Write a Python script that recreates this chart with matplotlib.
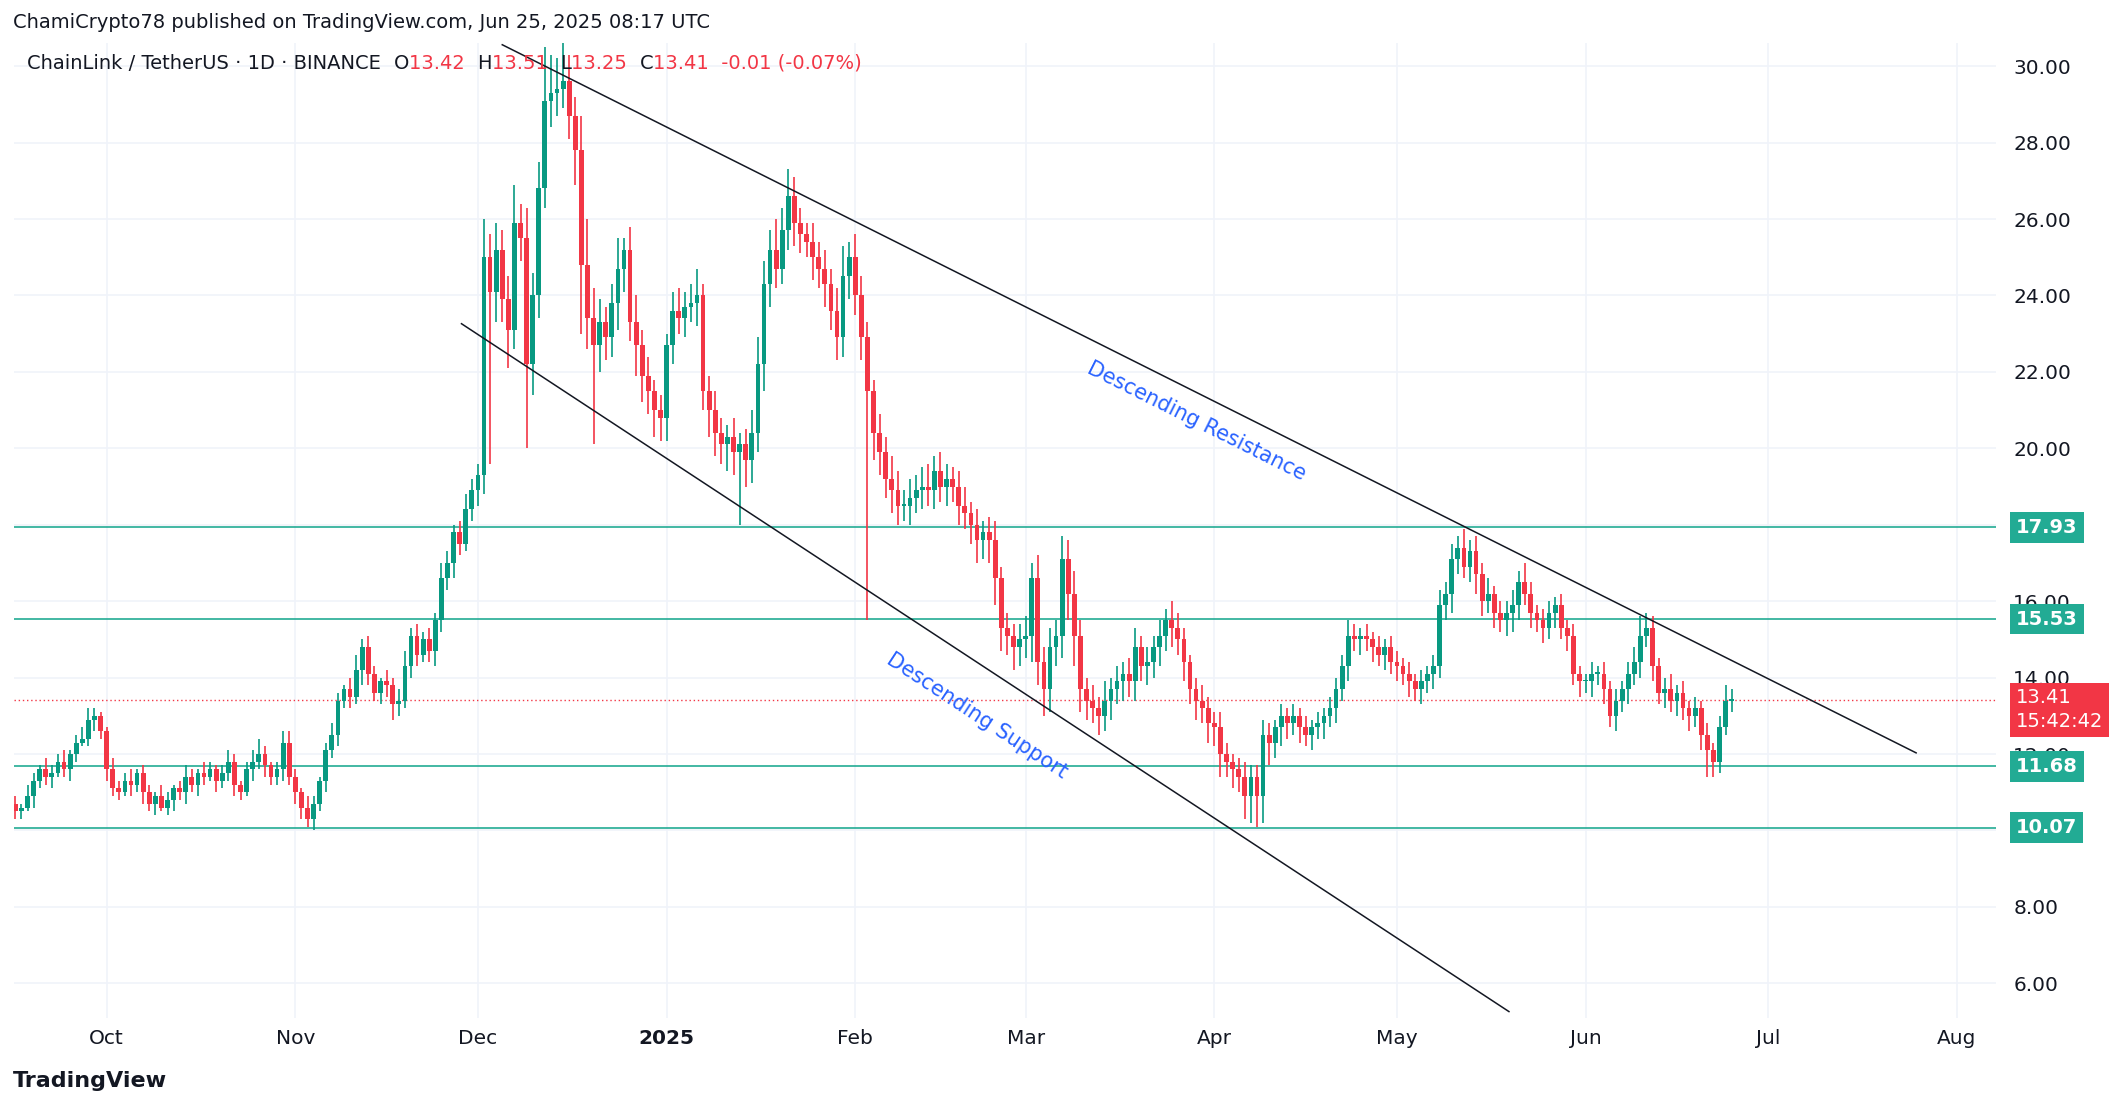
import matplotlib.pyplot as plt
import numpy as np

# daily closes, Sep 16 2024 .. Jun 25 2025
CLOSE_SEP = [10.5, 10.6, 10.9, 11.3, 11.6, 11.4, 11.5, 11.8, 11.6, 12.0, 12.3, 12.4, 12.9, 13.0, 12.6]
CLOSE_OCT = [11.6, 11.1, 11.0, 11.3, 11.2, 11.5, 11.0, 10.7, 10.9, 10.6, 10.8, 11.1, 11.0, 11.4, 11.2, 11.5,
             11.4, 11.6, 11.3, 11.5, 11.8, 11.2, 11.0, 11.6, 11.8, 12.0, 11.7, 11.4, 11.6, 12.3, 11.4]
CLOSE_NOV = [11.0, 10.6, 10.3, 10.7, 11.3, 12.1, 12.5, 13.4, 13.7, 13.5, 14.2, 14.8, 14.1, 13.6, 13.9, 13.8,
             13.3, 13.4, 14.3, 15.1, 14.6, 15.0, 14.7, 15.5, 16.6, 17.0, 17.8, 17.5, 18.4, 18.9]
CLOSE_DEC = [19.3, 25.0, 24.1, 25.2, 23.9, 23.1, 25.9, 25.5, 22.2, 24.0, 26.8, 29.1, 29.3, 29.4, 29.6, 28.7,
             27.8, 24.8, 23.4, 22.7, 23.3, 22.9, 23.8, 24.7, 25.2, 23.3, 22.7, 21.9, 21.5, 21.0, 20.8]
CLOSE_JAN = [22.7, 23.6, 23.4, 23.7, 23.8, 24.0, 21.5, 21.0, 20.4, 20.1, 20.3, 19.9, 20.1, 19.7, 20.4, 22.2,
             24.3, 25.2, 24.7, 25.7, 26.6, 25.9, 25.6, 25.4, 25.0, 24.7, 24.3, 23.6, 22.9, 24.5, 25.0]
CLOSE_FEB = [24.0, 22.9, 21.5, 20.4, 19.9, 19.2, 18.9, 18.5, 18.5, 18.7, 18.9, 19.0, 18.9, 19.4, 19.0, 19.2,
             19.0, 18.5, 18.3, 18.0, 17.6, 17.8, 17.6, 16.6, 15.3, 15.1, 14.8, 15.0]
CLOSE_MAR = [15.1, 16.6, 14.4, 13.7, 14.8, 15.1, 17.1, 16.2, 15.1, 13.7, 13.4, 13.2, 13.0, 13.4, 13.7, 13.9,
             14.1, 13.9, 14.8, 14.3, 14.4, 14.8, 15.1, 15.5, 15.3, 15.0, 14.4, 13.7, 13.4, 13.2, 12.8]
CLOSE_APR = [12.7, 12.0, 11.8, 11.6, 11.4, 10.9, 11.4, 10.9, 12.5, 12.3, 12.7, 13.0, 12.8, 13.0, 12.7, 12.5,
             12.7, 12.8, 13.0, 13.2, 13.7, 14.3, 15.1, 15.0, 15.1, 15.0, 14.8, 14.6, 14.8, 14.4]
CLOSE_MAY = [14.3, 14.1, 13.9, 13.7, 13.9, 14.1, 14.3, 15.9, 16.2, 17.1, 17.4, 16.9, 17.3, 16.7, 16.0, 16.2,
             15.7, 15.5, 15.7, 15.9, 16.5, 16.2, 15.7, 15.5, 15.3, 15.7, 15.9, 15.3, 15.1, 14.1, 13.9]
CLOSE_JUN = [13.9, 14.1, 14.1, 13.7, 13.0, 13.4, 13.7, 14.1, 14.4, 15.1, 15.3, 14.3, 13.6, 13.7, 13.4, 13.6,
             13.2, 13.0, 13.2, 12.5, 12.1, 11.8, 12.7, 13.4, 13.41]

# wick lengths in tenths of a dollar (upper, lower)
UP_WICK = [2, 1, 3, 2, 1, 3, 2, 2, 3, 1, 2, 3, 3, 2, 1,
           1, 3, 2, 2, 3, 1, 2, 2, 1, 3, 2, 1, 2, 3, 2, 1, 3, 2, 1, 2, 3, 2, 1, 2, 3, 4, 2, 1, 2, 3, 3,
           2, 1, 3, 2, 1, 2, 3, 2, 1, 3, 4, 2, 3, 2, 1, 3, 2, 3, 4, 2, 3, 2, 3, 2, 4, 3, 2, 3, 4, 3,
           3, 10, 6, 7, 5, 6, 10, 5, 8, 6, 7, 14, 10, 8, 12, 7, 5, 9, 12, 8, 6, 4, 5, 8, 3, 6, 7, 4, 5, 3, 4,
           3, 5, 6, 4, 5, 7, 3, 4, 5, 4, 3, 5, 3, 4, 6, 7, 6, 5, 8, 6, 7, 5, 4, 3, 5, 4, 5, 4, 6, 8, 4,
           6, 5, 4, 3, 5, 4, 6, 5, 4, 5, 4, 5, 6, 4, 5, 4, 3, 4, 5, 3, 4, 3, 4, 5, 3, 4, 3, 4,
           5, 4, 6, 4, 5, 4, 6, 5, 6, 4, 3, 4, 3, 5, 3, 4, 3, 4, 5, 3, 4, 3, 4, 3, 5, 4, 3, 2, 3, 4, 3,
           3, 4, 3, 2, 3, 4, 3, 3, 4, 3, 2, 3, 2, 3, 2, 3, 2, 3, 2, 3, 3, 3, 4, 3, 2, 3, 2, 3, 2, 3,
           3, 2, 3, 2, 3, 2, 3, 4, 3, 4, 3, 5, 3, 4, 3, 4, 2, 3, 3, 4, 3, 5, 3, 2, 3, 3, 2, 3, 2, 3, 2,
           2, 3, 2, 3, 2, 3, 2, 3, 4, 5, 4, 3, 2, 3, 4, 2, 3, 2, 3, 2, 3, 2, 3, 4, 3]
LO_WICK = [2, 2, 1, 3, 2, 2, 3, 1, 2, 3, 2, 1, 2, 3, 2,
           3, 2, 2, 1, 3, 2, 3, 2, 3, 1, 2, 3, 2, 3, 2, 3, 2, 1, 3, 2, 2, 3, 2, 1, 3, 2, 3, 2, 2, 3, 2,
           3, 3, 2, 3, 2, 3, 2, 3, 2, 3, 2, 4, 3, 2, 3, 3, 4, 3, 2, 3, 3, 2, 3, 4, 3, 3, 4, 3, 2, 3,
           4, 5, 45, 8, 6, 10, 5, 6, 22, 8, 6, 5, 7, 6, 5, 6, 9, 18, 8, 26, 7, 6, 5, 7, 6, 5, 8, 7, 6, 7, 6,
           6, 5, 4, 5, 4, 6, 5, 7, 6, 5, 7, 6, 19, 7, 6, 5, 7, 6, 5, 4, 5, 6, 5, 4, 6, 5, 6, 5, 6, 5, 6,
           5, 6, 60, 7, 6, 5, 6, 5, 4, 5, 4, 5, 4, 5, 4, 5, 4, 5, 4, 5, 6, 5, 6, 7, 6, 5, 6, 5,
           5, 7, 6, 7, 6, 5, 6, 7, 8, 6, 5, 4, 5, 4, 5, 4, 5, 4, 5, 4, 5, 4, 5, 4, 5, 4, 5, 4, 5, 4, 5,
           5, 6, 4, 5, 4, 6, 7, 8, 7, 6, 4, 5, 4, 3, 4, 3, 4, 3, 4, 3, 4, 3, 4, 3, 4, 3, 4, 3, 4, 3,
           4, 3, 4, 3, 4, 3, 4, 3, 4, 5, 4, 3, 4, 5, 4, 3, 4, 3, 4, 5, 4, 3, 4, 3, 4, 3, 4, 3, 4, 3, 4,
           3, 4, 3, 4, 3, 4, 3, 4, 3, 4, 3, 4, 3, 4, 3, 4, 3, 4, 3, 4, 7, 4, 3, 2]

LEVELS = [17.93, 15.53, 11.68, 10.07]
LAST = 13.41
# trend lines: (day, price) endpoints
RESIST = [(80.0, 30.56), (312.3, 12.03)]
SUPPORT = [(73.3, 23.26), (245.4, 5.26)]

MONTH_TICKS = [15, 46, 76, 107, 138, 166, 197, 227, 258, 288, 319]
MONTH_LABELS = ["Oct", "Nov", "Dec", "2025", "Feb", "Mar", "Apr", "May", "Jun", "Jul", "Aug"]

GREEN = "#089981"
RED = "#f23645"
TEAL = "#22ab94"
YMIN, YMAX = 5.1, 30.6

close = np.array(CLOSE_SEP + CLOSE_OCT + CLOSE_NOV + CLOSE_DEC + CLOSE_JAN + CLOSE_FEB
                 + CLOSE_MAR + CLOSE_APR + CLOSE_MAY + CLOSE_JUN)
n = len(close)
opn = np.concatenate([[10.7], close[:-1]])
up = np.array((UP_WICK + [3] * n)[:n]) / 10.0
lo = np.array((LO_WICK + [3] * n)[:n]) / 10.0
high = np.maximum(opn, close) + up
low = np.minimum(opn, close) - lo
days = np.arange(n)

fig = plt.figure(figsize=(21.14, 11.08), dpi=100)
ax = fig.add_axes([0.0064, 0.0815, 0.938, 0.8795])

for d, o, c, h, l in zip(days, opn, close, high, low):
    col = GREEN if c >= o else RED
    ax.vlines(d, l, h, color=col, lw=1.2, zorder=3)
    ax.bar(d, max(abs(c - o), 0.04), bottom=min(o, c), width=0.78, color=col, zorder=4, linewidth=0)

for lv in LEVELS:
    ax.axhline(lv, color=TEAL, lw=1.2, zorder=2)
ax.axhline(LAST, color=RED, lw=1.0, ls=(0, (1, 2)), zorder=2)

ax.plot(*zip(*RESIST), color="#131722", lw=1.1, zorder=5)
ax.plot(*zip(*SUPPORT), color="#131722", lw=1.1, zorder=5)

ax.text(194, 20.7, "Descending Resistance", color="#2962ff", fontsize=15, rotation=-26.6,
        ha="center", va="center", rotation_mode="anchor")
ax.text(158, 13.0, "Descending Support", color="#2962ff", fontsize=15, rotation=-33.3,
        ha="center", va="center", rotation_mode="anchor")

ax.set_xlim(-0.3, 325.5)
ax.set_ylim(YMIN, YMAX)
ax.set_xticks(MONTH_TICKS)
ax.set_xticklabels(MONTH_LABELS)
ax.set_yticks(np.arange(6, 31, 2))
ax.set_yticklabels([f"{v:.2f}" for v in np.arange(6, 31, 2)])
ax.yaxis.tick_right()
ax.tick_params(length=0, labelsize=14.5, colors="#131722", pad=12)
ax.tick_params(axis="x", pad=8)
for lbl in ax.get_xticklabels():
    if lbl.get_text() == "2025":
        lbl.set_fontweight("bold")
ax.grid(color="#f0f3fa", lw=1.2, zorder=0)
for s in ax.spines.values():
    s.set_visible(False)

# right-side price tags
for lv in LEVELS:
    ax.text(1.01, (lv - YMIN) / (YMAX - YMIN), f"{lv:.2f}", transform=ax.transAxes, fontsize=14,
            color="white", fontweight="bold", ha="left", va="center",
            bbox=dict(boxstyle="square,pad=0.3", fc=TEAL, ec="none"))
yl = (LAST - YMIN) / (YMAX - YMIN)
ax.text(1.01, yl + 0.012, f"{LAST:.2f}\n15:42:42", transform=ax.transAxes, fontsize=14,
        color="white", ha="left", va="top", linespacing=1.3,
        bbox=dict(boxstyle="square,pad=0.3", fc=RED, ec="none"), zorder=10)

# header
fig.text(0.006, 0.98, "ChamiCrypto78 published on TradingView.com, Jun 25, 2025 08:17 UTC",
         fontsize=14, color="#131722", va="center")
parts = [("ChainLink / TetherUS · 1D · BINANCE  ", "#131722"), ("O", "#131722"), ("13.42  ", RED),
         ("H", "#131722"), ("13.51  ", RED), ("L", "#131722"), ("13.25  ", RED),
         ("C", "#131722"), ("13.41  -0.01 (-0.07%)", RED)]
x0 = 0.013
renderer = fig.canvas.get_renderer()
for txt, col in parts:
    t = fig.text(x0, 0.943, txt, fontsize=14, color=col, va="center")
    bb = t.get_window_extent(renderer=renderer)
    x0 += bb.width / fig.bbox.width
fig.text(0.006, 0.024, "TradingView", fontsize=16, fontweight="bold", color="#131722", va="center")

fig.savefig("out.png", dpi=100)
